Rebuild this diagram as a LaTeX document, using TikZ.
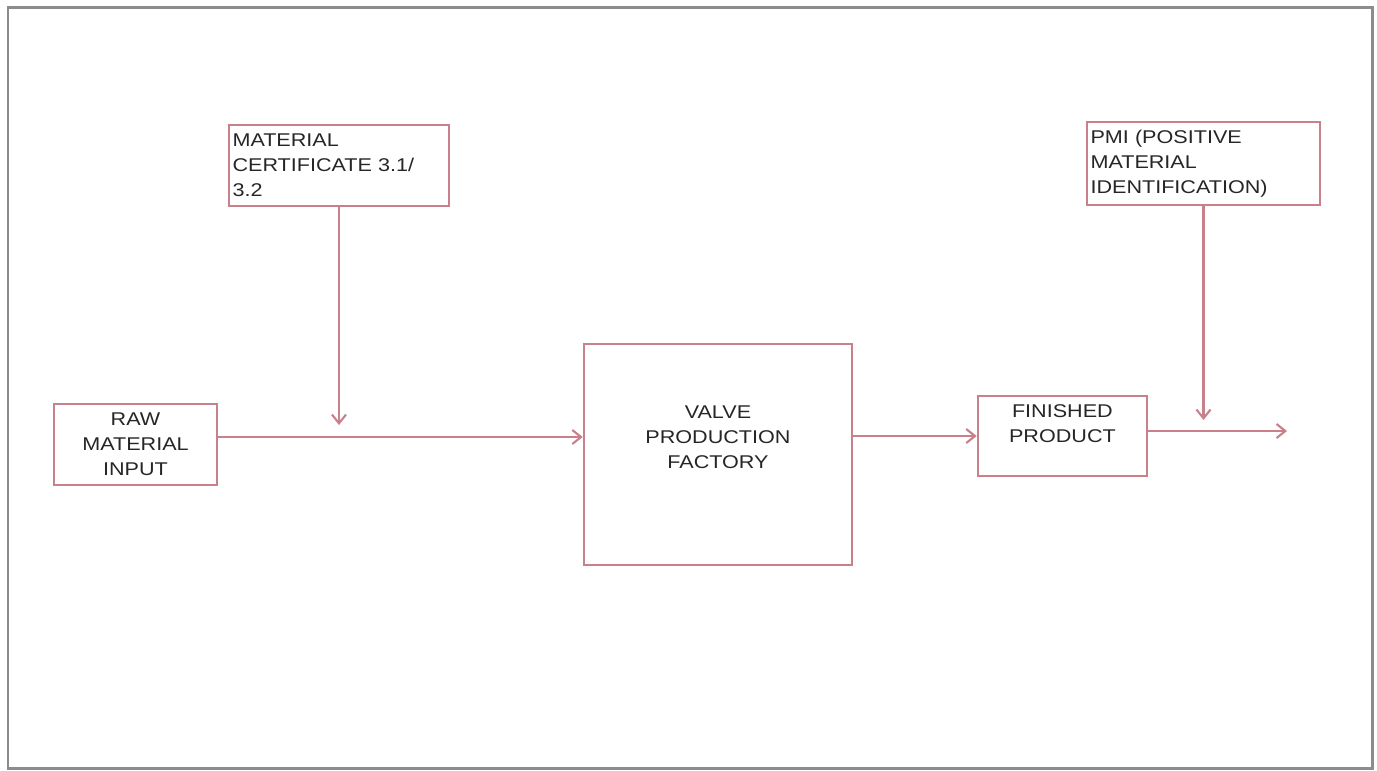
\documentclass[tikz,border=0pt]{standalone}
\usepackage{fontspec}
\setmainfont{Liberation Sans}[FakeStretch=1.17]
\usepackage{tikz}
\usetikzlibrary{arrows.meta, positioning}
\definecolor{boxred}{RGB}{200,128,138}
\definecolor{framegray}{RGB}{140,140,140}

\begin{document}
\begin{tikzpicture}[>={Straight Barb[length=5pt, width=8pt]}, node distance=2cm,
	every node/.style={font=\fontsize{10.5}{14.2}\selectfont, text=black!85},
	blockbox/.style={draw=boxred, line width=1.4pt, inner sep=0pt, align=center},
	notebox/.style={draw=boxred, line width=1.4pt, inner xsep=2pt, align=left},
	flow/.style={->, draw=boxred, line width=1.2pt}]
			% Frame and size of the page
			\useasboundingbox (0,0) rectangle (27.54,-15.4);
			\draw[framegray, line width=1.7pt] (0.16,-0.14) rectangle (27.44,-15.36);
			
			% Main line of blocks
			\node[blockbox, minimum width=3.26cm, minimum height=1.62cm] (raw) at (2.71,-8.89) {RAW\\MATERIAL\\INPUT};
			\node[blockbox, right=7.29cm of raw, yshift=-0.2cm, minimum width=5.36cm, minimum height=4.42cm,
				label={[align=center, yshift=0.35cm]center:VALVE\\PRODUCTION\\FACTORY}] (valve) {};
			\node[blockbox, right=2.47cm of valve, yshift=0.37cm, minimum width=3.38cm, minimum height=1.6cm,
				label={[align=center, yshift=0.24cm]center:FINISHED\\PRODUCT}] (fin) {};
			
			% Checks feeding in from above
			\node[notebox, text width=4.4cm-4pt, minimum height=1.62cm] (cert) at (6.78,-3.31) {MATERIAL\\CERTIFICATE 3.1/\\3.2};
			\node[notebox, text width=4.66cm-4pt, minimum height=1.66cm] (pmi) at (24.07,-3.27) {PMI (POSITIVE\\MATERIAL\\IDENTIFICATION)};
			
			% Free ends of the connectors
			\coordinate (certend) at (cert.south |- 0,-8.5);
			\coordinate (pmiend) at (pmi.south |- 0,-8.4);
			\coordinate (outend) at (25.74,-8.62);
			
			% Connectors
			\draw[flow] ([yshift=0.15cm]raw.east) -- ([yshift=0.15cm]raw.east -| valve.west);
			\draw[flow] (cert.south) -- (certend);
			\draw[flow] (fin.west -| valve.east) -- (fin.west);
			\draw[flow] (fin.east |- outend) -- (outend);
			\draw[flow] (pmi.south) -- (pmiend);
		\end{tikzpicture}
\end{document}
